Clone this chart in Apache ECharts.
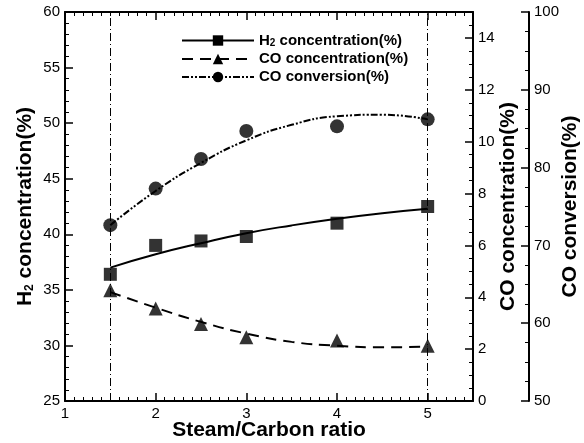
<!DOCTYPE html>
<html lang="en">
<head>
  <meta charset="UTF-8">
  <title>Steam/Carbon ratio</title>
  <script src="https://cdn.jsdelivr.net/npm/echarts@6/dist/echarts.min.js"></script>
</head>
<body style="margin:0;background:#fff">
  <div id="container" style="width:584px;height:443px;"></div>
  <script>
    // measured points
    var ratio = [1.5, 2, 2.5, 3, 4, 5];
    var h2Conc = [36.4, 39.0, 39.4, 39.8, 41.0, 42.5];
    var coConc = [4.27, 3.57, 2.97, 2.46, 2.33, 2.13];
    var coConv = [72.6, 77.3, 81.1, 84.7, 85.3, 86.2];

    // fitted curves
    var fitRatio = [1.5, 2, 2.5, 3, 3.5, 4, 4.5, 5];
    var h2Fit = [37.0, 38.2, 39.2, 40.1, 40.8, 41.4, 41.9, 42.3];
    var coConcFit = [4.2, 3.6, 3.05, 2.6, 2.28, 2.13, 2.07, 2.1];
    var coConvFit = [72.6, 77.0, 80.6, 83.5, 85.5, 86.6, 86.8, 86.2];

    var guideLines = [1.5, 5];

    function pairs(xs, ys) {
      return xs.map(function (x, i) { return [x, ys[i]]; });
    }

    var font = 'Liberation Sans, Arial, sans-serif';
    var black = '#000';
    var tickLabel = { color: black, fontSize: 15, fontFamily: font };
    var titleStyle = {
      color: black, fontSize: 21, fontWeight: 'bold', fontFamily: font,
      rich: { sub: { fontSize: 12, fontWeight: 'bold', verticalAlign: 'bottom', padding: [9, 0, 0, 0] } }
    };

    function xAxisCfg(pos, labels) {
      return {
        type: 'value', position: pos, min: 1, max: 5.5, interval: 1,
        axisLine: { show: true, lineStyle: { color: black, width: 2 } },
        axisTick: { inside: true, length: 8, lineStyle: { color: black, width: 1.5 } },
        minorTick: { show: true, splitNumber: 10, length: 4, lineStyle: { color: black } },
        axisLabel: Object.assign({ show: labels, showMaxLabel: false, margin: 5 }, tickLabel),
        splitLine: { show: false }
      };
    }

    function yAxisCfg(opts) {
      return Object.assign({
        type: 'value',
        nameLocation: 'middle',
        nameRotate: 90,
        nameMoveOverlap: false,
        nameTextStyle: titleStyle,
        axisLine: { show: true, lineStyle: { color: black, width: 2 } },
        axisTick: { inside: true, length: 8, lineStyle: { color: black, width: 1.5 } },
        minorTick: { show: true, length: 4, lineStyle: { color: black } },
        axisLabel: Object.assign({ showMaxLabel: false, margin: 5 }, tickLabel),
        splitLine: { show: false }
      }, opts);
    }

    var myChart = echarts.init(document.getElementById('container'));

    myChart.setOption({
      backgroundColor: '#fff',
      animation: false,
      grid: { left: 65, right: 111, top: 12, bottom: 42, outerBoundsMode: 'none', containLabel: false },
      legend: {
        orient: 'vertical', left: 176, top: 28, itemGap: 3,
        itemWidth: 72, itemHeight: 13,
        data: ['h2', 'coc', 'cov'],
        formatter: function (n) {
          return { h2: 'H{sub|2} concentration(%)', coc: 'CO concentration(%)', cov: 'CO conversion(%)' }[n];
        },
        textStyle: {
          color: black, fontSize: 15, fontWeight: 'bold', fontFamily: font,
          rich: { sub: { fontSize: 10, fontWeight: 'bold', verticalAlign: 'bottom', padding: [6, 0, 0, 0] } }
        }
      },
      xAxis: [
        Object.assign(xAxisCfg('bottom', true), {
          name: 'Steam/Carbon ratio', nameLocation: 'middle', nameGap: 19,
          nameMoveOverlap: false,
          nameTextStyle: titleStyle
        }),
        xAxisCfg('top', false)
      ],
      yAxis: [
        yAxisCfg({
          position: 'left', min: 25, max: 60, interval: 5,
          name: 'H{sub|2} concentration(%)', nameGap: 29,
          minorTick: { show: true, splitNumber: 5, length: 4, lineStyle: { color: black } },
          axisLabel: Object.assign({ showMaxLabel: true, margin: 5 }, tickLabel)
        }),
        yAxisCfg({
          position: 'right', min: 0, max: 15, interval: 2,
          name: 'CO concentration(%)', nameGap: 25,
          minorTick: { show: true, splitNumber: 4, length: 4, lineStyle: { color: black } }
        }),
        yAxisCfg({
          position: 'right', offset: 56, min: 50, max: 100, interval: 10,
          name: 'CO conversion(%)', nameGap: 31,
          minorTick: { show: true, splitNumber: 4, length: 4, lineStyle: { color: black } },
          axisLabel: Object.assign({ showMaxLabel: true, margin: 5 }, tickLabel)
        })
      ],
      series: [
        {
          name: 'h2', type: 'line', smooth: true, yAxisIndex: 0,
          data: pairs(fitRatio, h2Fit),
          symbol: 'rect', symbolSize: 12, showSymbol: false,
          itemStyle: { color: black },
          lineStyle: { color: black, width: 2 },
          markLine: {
            silent: true, symbol: 'none', label: { show: false },
            lineStyle: { color: black, width: 1, type: [8, 3, 1, 3] },
            data: guideLines.map(function (v) { return { xAxis: v }; })
          }
        },
        {
          name: 'coc', type: 'line', smooth: true, yAxisIndex: 1,
          data: pairs(fitRatio, coConcFit),
          symbol: 'triangle', symbolSize: 13, showSymbol: false,
          itemStyle: { color: black },
          lineStyle: { color: black, width: 2, type: [11, 7] }
        },
        {
          name: 'cov', type: 'line', smooth: true, yAxisIndex: 2,
          data: pairs(fitRatio, coConvFit),
          symbol: 'circle', symbolSize: 13, showSymbol: false,
          itemStyle: { color: black },
          lineStyle: { color: black, width: 2, type: [7, 2, 2, 2, 2, 2] }
        },
        {
          name: 'h2 data', type: 'scatter', yAxisIndex: 0, symbol: 'rect', symbolSize: 13,
          itemStyle: { color: black }, data: pairs(ratio, h2Conc)
        },
        {
          name: 'coc data', type: 'scatter', yAxisIndex: 1, symbol: 'triangle', symbolSize: 14,
          itemStyle: { color: black }, data: pairs(ratio, coConc)
        },
        {
          name: 'cov data', type: 'scatter', yAxisIndex: 2, symbol: 'circle', symbolSize: 14,
          itemStyle: { color: black }, data: pairs(ratio, coConv)
        }
      ]
    });
  </script>
</body>
</html>
